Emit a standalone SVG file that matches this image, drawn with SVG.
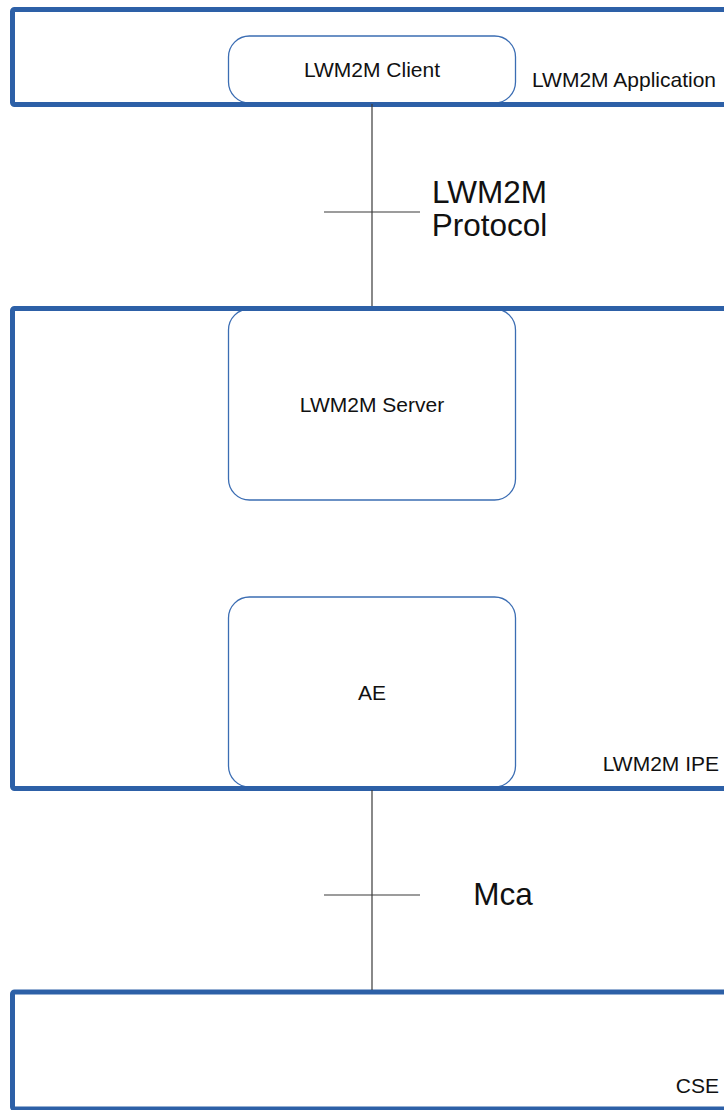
<svg xmlns="http://www.w3.org/2000/svg" width="724" height="1110" viewBox="0 0 724 1110">
<style>
.frame{fill:none;stroke:#2d60a7;stroke-width:5;}
.node{fill:#fff;stroke:#3b6db3;stroke-width:1.3;}
.lbl{font-family:"Liberation Sans",Arial,sans-serif;font-size:21px;fill:#111;}
.big{font-family:"Liberation Sans",Arial,sans-serif;font-size:31.5px;fill:#111;}
.conn{stroke:#3a3a3a;stroke-width:1.2;fill:none;}
</style>
<rect x="0" y="0" width="724" height="1110" fill="#fff"/>
<g id="lwm2m-client">
<rect class="node" x="228.5" y="36" width="287" height="67" rx="21" ry="21"/>
<text class="lbl" x="372" y="77" text-anchor="middle">LWM2M Client</text>
</g>
<g id="lwm2m-server">
<rect class="node" x="228.5" y="309" width="287" height="191" rx="21" ry="21"/>
<text class="lbl" x="372" y="412" text-anchor="middle">LWM2M Server</text>
</g>
<g id="ae">
<rect class="node" x="228.5" y="597" width="287" height="190" rx="21" ry="21"/>
<text class="lbl" x="372" y="700" text-anchor="middle">AE</text>
</g>
<g id="lwm2m-application">
<rect class="frame" x="12.5" y="9.5" width="740" height="95" rx="2"/>
<text class="lbl" x="532" y="87">LWM2M Application</text>
</g>
<g id="lwm2m-ipe">
<rect class="frame" x="12.5" y="308.5" width="740" height="480" rx="2"/>
<text class="lbl" x="719" y="771" text-anchor="end">LWM2M IPE</text>
</g>
<g id="cse">
<rect class="frame" x="12.5" y="992" width="740" height="117" rx="2"/>
<text class="lbl" x="719" y="1093" text-anchor="end">CSE</text>
</g>
<g id="connectors">
<line class="conn" x1="372" y1="104" x2="372" y2="306"/>
<line class="conn" x1="324" y1="212" x2="420" y2="212"/>
<text class="big" x="489.5" y="203" text-anchor="middle">LWM2M</text>
<text class="big" x="489.5" y="236" text-anchor="middle">Protocol</text>
<line class="conn" x1="372" y1="790" x2="372" y2="990"/>
<line class="conn" x1="324" y1="895" x2="420" y2="895"/>
<text class="big" x="503" y="905" text-anchor="middle">Mca</text>
</g>
</svg>
